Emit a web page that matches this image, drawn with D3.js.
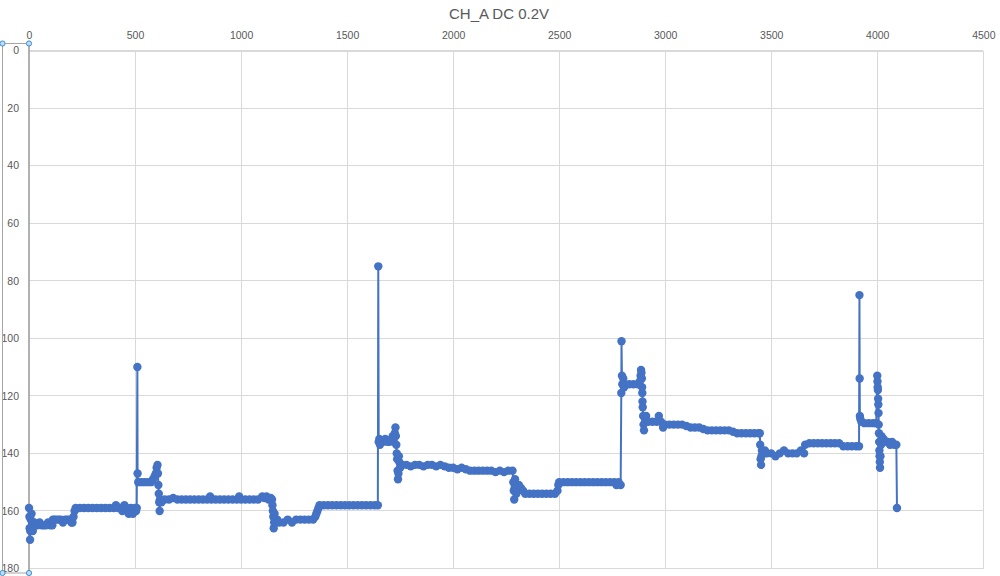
<!DOCTYPE html>
<html>
<head>
<meta charset="utf-8">
<script src="https://cdn.jsdelivr.net/npm/d3@7/dist/d3.min.js"></script>
<style>
  html, body { margin: 0; padding: 0; background: #ffffff; }
  svg { display: block; }
</style>
</head>
<body>
<svg id="chart" width="1000" height="576"></svg>
<script>
// ---- data ----
const chartTitle = "CH_A DC 0.2V";
const xTicks = [0, 500, 1000, 1500, 2000, 2500, 3000, 3500, 4000, 4500];
const yTicks = [0, 20, 40, 60, 80, 100, 120, 140, 160, 180];
// [sample index, value]
const chA = [
  [0,159],[2,162],[3,166],[5,170],[6,167],[8,163],[10,166],[12,161],[14,165],[16,164],[18,167],[20,165],
  [25,164],[30,165],[40,165],[50,164],[60,165],[70,165],[80,165],[90,164],[100,165],[110,165],
  [113,163],[120,163],[130,163],[140,163],[150,163],[160,164],[170,163],[180,163],[190,163],[200,164],[205,164],
  [210,162],[215,160],[220,159],[240,159],[260,159],[280,159],[300,159],[320,159],[340,159],[360,159],[380,159],
  [400,159],[410,158],[420,159],[430,159],[440,160],[450,158],[460,159],[470,161],[480,159],[490,161],[500,159],
  [505,160],[508,159],[511,110],[512,147],[515,150],[530,150],[545,150],[560,150],[575,150],[585,149],[592,148],
  [598,147],[602,145],[606,144],[608,147],[610,151],[612,154],[614,157],[616,160],[618,156],[625,157],
  [640,156],[660,156],[680,155.5],[700,156],[720,156],[740,156],[760,156],[780,156],[800,156],[820,156],[840,156],
  [854,155],[860,156],[880,156],[900,156],[920,156],[940,156],[960,156],[980,156],[991,155],[1000,156],[1020,156],
  [1040,156],[1060,156],[1080,156],[1100,155],[1110,155.5],[1120,155],[1130,156],[1140,155.5],[1146,156],
  [1148,158],[1150,160],[1152,162],[1154,166],[1156,164],[1158,161],[1160,163],[1165,164],[1170,163],[1180,164],
  [1200,164],[1220,163],[1240,164],[1260,163],[1280,163],[1300,163],[1320,163],[1340,163],[1350,162],[1355,161],
  [1360,160],[1365,159],[1370,158],[1390,158],[1410,158],[1430,158],[1450,158],[1470,158],[1490,158],[1510,158],
  [1530,158],[1550,158],[1570,158],[1590,158],[1610,158],[1630,158],[1645,158],
  [1647,75],[1649,136],[1652,135],[1655,137],[1660,136],[1670,136],[1680,135],[1690,136],[1700,136],[1710,135],
  [1715,134],[1720,136],[1725,133],[1728,131],[1730,134],[1732,137],[1734,140],[1736,142],[1738,146],[1740,149],
  [1742,147],[1744,141],[1746,143],[1750,145],[1760,144],[1780,144],[1800,144.5],[1820,144],[1840,144],[1860,144.5],
  [1880,144],[1900,144],[1920,144.5],[1940,144],[1960,144.5],[1980,145],[2000,145],[2020,145.5],[2040,145],
  [2060,145.5],[2080,146],[2100,146],[2120,146],[2140,146],[2160,146],[2180,146],[2200,146.5],[2220,146],
  [2240,146.5],[2260,146],[2280,146],
  [2284,150],[2286,153],[2288,156],[2290,152],[2292,149],[2295,151],[2298,154],[2300,152],[2310,151],[2320,152],
  [2330,153],[2340,154],[2360,154],[2380,154],[2400,154],[2420,154],[2440,154],[2460,154],[2480,154],[2492,153],
  [2496,151],[2500,150],[2520,150],[2540,150],[2560,150],[2580,150],[2600,150],[2620,150],[2640,150],[2660,150],
  [2680,150],[2700,150],[2720,150],[2740,150],[2760,150],[2770,151],[2780,150],[2790,151],
  [2793,119],[2794,101],[2796,113],[2798,116],[2802,114],[2806,117],[2810,116],[2830,116],[2850,116],[2870,116],
  [2880,115],[2884,113],[2886,111],[2888,112],[2890,114],[2891,117],[2892,119],[2893,122],[2894,124],[2896,127],
  [2898,130],[2900,132],[2905,129],[2910,127],[2920,129],[2940,129],[2960,129],[2970,127],[2980,129],[2990,131],
  [3000,130],[3020,130],[3040,130],[3060,130],[3080,130],[3100,130.5],[3120,131],[3140,131],[3160,131],[3180,131.5],
  [3200,132],[3220,132],[3240,132],[3260,132],[3280,132],[3300,132],[3320,132.5],[3340,133],[3360,133],[3380,133],
  [3400,133],[3420,133],[3440,133],[3446,133],
  [3448,137],[3450,142],[3452,144],[3454,141],[3456,139],[3460,140],[3470,139],[3480,140],[3500,140],[3520,141],
  [3540,140],[3560,139],[3580,140],[3600,140],[3620,140],[3640,139],[3655,140],[3660,137],[3680,136.5],[3700,136.5],
  [3720,136.5],[3740,136.5],[3760,136.5],[3780,136.5],[3800,136.5],[3820,136.5],[3840,137.5],[3860,137.5],
  [3880,137.5],[3900,137.5],[3914,137.5],
  [3916,85],[3917,114],[3918,127],[3920,128],[3925,129],[3940,129.5],[3960,129.5],[3980,129.5],[3995,129.5],
  [4000,113],[4001,115],[4002,117],[4003,118],[4004,121],[4005,123],[4006,126],[4007,130],[4008,133],[4009,136],
  [4010,139],[4011,141],[4012,143],[4013,145],[4015,141],[4018,137],[4020,134],[4030,135],[4040,136],[4050,136],
  [4060,137],[4070,136],[4080,137],[4090,137],[4093,159]
];

// ---- drawing ----
const svg = d3.select("#chart");
const lineColor = "#4472C4";
const textColor = "#595959";
const gridColor = "#d9d9d9";

const x = d3.scaleLinear().domain([0, 4500]).range([29, 983.3]);
const y = d3.scaleLinear().domain([0, 180]).range([50.5, 568.5]);

// title
svg.append("text")
  .attr("x", 499).attr("y", 19)
  .attr("text-anchor", "middle")
  .attr("font-family", "Liberation Sans, Arial, sans-serif")
  .attr("font-size", 15)
  .attr("fill", textColor)
  .text(chartTitle);

// gridlines
svg.append("g").selectAll("line.v")
  .data(xTicks.filter(d => d !== 0)).join("line")
  .attr("x1", d => x(d)).attr("x2", d => x(d))
  .attr("y1", y(0)).attr("y2", y(180))
  .attr("stroke", gridColor).attr("stroke-width", 1).attr("shape-rendering", "crispEdges");
svg.append("g").selectAll("line.h")
  .data(yTicks).join("line")
  .attr("x1", x(0)).attr("x2", x(4500))
  .attr("y1", d => y(d)).attr("y2", d => y(d))
  .attr("stroke", gridColor).attr("stroke-width", d => d === 0 ? 2 : 1).attr("shape-rendering", "crispEdges");

// axes (labels)
const xAxis = svg.append("g")
  .attr("transform", `translate(0,${y(0)})`)
  .call(d3.axisTop(x).tickValues(xTicks).tickSize(0).tickPadding(11.5).tickFormat(d3.format("d")));
const yAxis = svg.append("g")
  .attr("transform", `translate(${x(0)},0)`)
  .call(d3.axisLeft(y).tickValues(yTicks).tickSize(0).tickPadding(10).tickFormat(d3.format("d")));
[xAxis, yAxis].forEach(g => {
  g.select(".domain").remove();
  g.selectAll("text")
    .attr("font-family", "Liberation Sans, Arial, sans-serif")
    .attr("font-size", 10.5)
    .attr("fill", textColor);
});

// selected vertical axis box with handles
svg.append("rect")
  .attr("x", 2.5).attr("y", 43.5).attr("width", 26.5).attr("height", 529.5)
  .attr("fill", "none").attr("stroke", "#a6a6a6").attr("stroke-width", 1);
svg.append("line")
  .attr("x1", x(0)).attr("x2", x(0)).attr("y1", 43.5).attr("y2", 573)
  .attr("stroke", "#a6a6a6").attr("stroke-width", 1.5);
const handles = [[2.5, 43.5], [29, 43.5], [2.5, 573], [29, 573]];
svg.append("g").selectAll("circle")
  .data(handles).join("circle")
  .attr("cx", d => d[0]).attr("cy", d => d[1]).attr("r", 2.6)
  .attr("fill", "#bfdcf5").attr("stroke", "#3d8fd8").attr("stroke-width", 1);

// series line
const line = d3.line().x(d => x(d[0])).y(d => y(d[1]));
svg.append("path")
  .datum(chA)
  .attr("d", line)
  .attr("fill", "none")
  .attr("stroke", lineColor)
  .attr("stroke-width", 2)
  .attr("stroke-linejoin", "round");

// markers
svg.append("g").selectAll("circle")
  .data(chA).join("circle")
  .attr("cx", d => x(d[0])).attr("cy", d => y(d[1]))
  .attr("r", 4.2)
  .attr("fill", lineColor);
</script>
</body>
</html>
